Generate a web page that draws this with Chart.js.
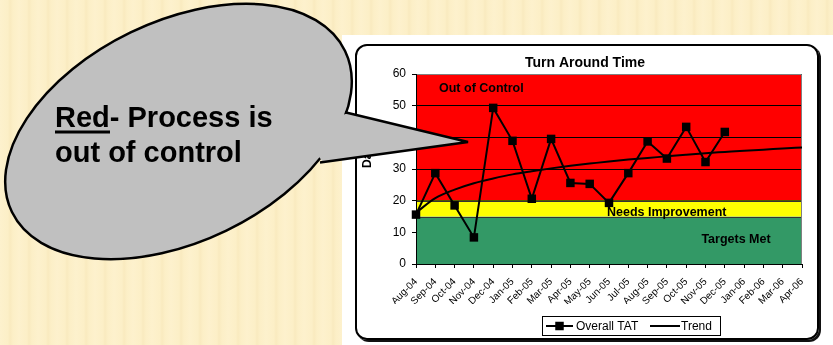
<!DOCTYPE html>
<html>
<head>
<meta charset="utf-8">
<script src="https://cdn.jsdelivr.net/npm/chart.js@4.4.1/dist/chart.umd.min.js"></script>
<style>
  html, body { margin: 0; padding: 0; }
  body {
    width: 833px; height: 345px; position: relative; overflow: hidden;
    background: repeating-linear-gradient(90deg, #fdf1cd 0px, #fcefc7 8px, #f9eabf 10px, #fcefc7 13px, #fdf1cd 19px);
  }
  #panel { position: absolute; left: 342px; top: 35px; width: 491px; height: 310px; background: #fff; }
  #frame {
    position: absolute; left: 355px; top: 44px; width: 460px; height: 292px;
    border: 2px solid #000; border-radius: 12px; box-shadow: 2px 2px 0 #111;
  }
  #chart, #bubble { position: absolute; left: 0; top: 0; }
</style>
</head>
<body>
<div id="panel"></div>
<div id="frame"></div>
<canvas id="chart" width="833" height="345"></canvas>
<svg id="bubble" width="833" height="345">
  <ellipse cx="178.5" cy="131.5" rx="185" ry="110" transform="rotate(-25.8 178.5 131.5)"
           fill="#c0c0c0" stroke="#000" stroke-width="2.5"/>
  <polygon points="348,113 468,142 323,162 300,132" fill="#c0c0c0"/>
  <polyline points="345,112.3 468,142 320,162.4" fill="none" stroke="#000" stroke-width="2.5"/>
  <text x="55" y="127" font-family="Liberation Sans, Arial, sans-serif" font-weight="bold" font-size="29">Red- Process is</text>
  <rect x="55" y="130.5" width="55" height="3" fill="#000"/>
  <text x="55" y="162" font-family="Liberation Sans, Arial, sans-serif" font-weight="bold" font-size="29">out of control</text>
</svg>

<script>
// months on the x axis
const months = ['Aug-04', 'Sep-04', 'Oct-04', 'Nov-04', 'Dec-04', 'Jan-05', 'Feb-05',
  'Mar-05', 'Apr-05', 'May-05', 'Jun-05', 'Jul-05', 'Aug-05', 'Sep-05', 'Oct-05',
  'Nov-05', 'Dec-05', 'Jan-06', 'Feb-06', 'Mar-06', 'Apr-06'];

// turn around time in days
const tatValues = [15.6, 28.7, 18.5, 8.4, 49.3, 38.9, 20.6, 39.5, 25.6, 25.3, 19.3,
  28.7, 38.7, 33.3, 43.3, 32.2, 41.7];

// trend curve, read at each month
const trendValues = [16.2, 20.8, 23.5, 25.5, 27.0, 28.3, 29.3, 30.2, 31.0, 31.7, 32.4,
  33.0, 33.5, 34.0, 34.5, 35.0, 35.4, 35.8, 36.1, 36.5, 36.8];

const seriesNames = ['Overall TAT', 'Trend'];

// zones: limits from bottom to top, with a name and colour for each zone
const zoneLimits = [0, 15, 20, 60];
const zoneNames = ['Targets Met', 'Needs Improvement', 'Out of Control'];
const zoneColors = ['#339966', '#ffff00', '#ff0000'];

const yTicks = { min: 0, max: 60, step: 10 };

const FONT = 'Liberation Sans, Arial, sans-serif';

const zonesPlugin = {
  id: 'zones',
  beforeDraw(chart) {
    const { ctx, chartArea: a, scales: { y } } = chart;
    const top = y.getPixelForValue(zoneLimits[3]);
    const bot = y.getPixelForValue(zoneLimits[2]);
    ctx.save();
    ctx.fillStyle = zoneColors[2];
    ctx.fillRect(a.left, top, a.width, bot - top);
    ctx.restore();
  },
  beforeDatasetsDraw(chart) {
    const { ctx, chartArea: a, scales: { y } } = chart;
    ctx.save();
    for (let i = 0; i < 2; i++) {
      const t = y.getPixelForValue(zoneLimits[i + 1]);
      const b = y.getPixelForValue(zoneLimits[i]);
      ctx.fillStyle = zoneColors[i];
      ctx.fillRect(a.left, t, a.width, b - t);
    }
    // zone edges
    ctx.lineWidth = 1;
    ctx.strokeStyle = '#333';
    [zoneLimits[1], zoneLimits[2]].forEach(v => {
      const p = Math.round(y.getPixelForValue(v)) + 0.5;
      ctx.beginPath(); ctx.moveTo(a.left, p); ctx.lineTo(a.right, p); ctx.stroke();
    });
    // plot border
    ctx.strokeStyle = '#808080';
    ctx.beginPath();
    ctx.moveTo(a.left, Math.round(a.top) + 0.5);
    ctx.lineTo(Math.round(a.right) - 0.5, Math.round(a.top) + 0.5);
    ctx.lineTo(Math.round(a.right) - 0.5, a.bottom);
    ctx.stroke();
    ctx.strokeStyle = '#000';
    ctx.beginPath();
    ctx.moveTo(Math.round(a.left) + 0.5, a.top);
    ctx.lineTo(Math.round(a.left) + 0.5, Math.round(a.bottom) + 0.5);
    ctx.lineTo(a.right, Math.round(a.bottom) + 0.5);
    ctx.stroke();

    // zone names
    ctx.fillStyle = '#000';
    ctx.font = 'bold 12.5px ' + FONT;
    ctx.textBaseline = 'middle';
    ctx.textAlign = 'left';
    ctx.fillText(zoneNames[2], a.left + 23, a.top + 15);
    ctx.fillText(zoneNames[1], a.left + 191, y.getPixelForValue(zoneLimits[1]) - 4);
    ctx.textAlign = 'center';
    ctx.fillText(zoneNames[0], a.left + 320, a.bottom - 24);
    ctx.restore();
  },
  afterDraw(chart) {
    const { ctx } = chart;
    ctx.save();
    ctx.fillStyle = '#000';
    // title
    ctx.font = 'bold 14px ' + FONT;
    ctx.textAlign = 'center';
    ctx.textBaseline = 'middle';
    ctx.fillText('Turn Around Time', 585, 63);
    // y axis title (mostly hidden by the callout)
    ctx.font = 'bold 12px ' + FONT;
    ctx.translate(368, 168);
    ctx.rotate(-Math.PI / 2);
    ctx.textAlign = 'left';
    ctx.fillText('Days', 0, 0);
    ctx.setTransform(1, 0, 0, 1, 0, 0);

    // legend
    const lx = 542.5, ly = 316.5, lw = 178, lh = 19, my = ly + lh / 2;
    ctx.fillStyle = '#fff';
    ctx.fillRect(lx, ly, lw, lh);
    ctx.strokeStyle = '#000';
    ctx.lineWidth = 1;
    ctx.strokeRect(lx, ly, lw, lh);
    ctx.lineWidth = 2;
    ctx.beginPath(); ctx.moveTo(546, my); ctx.lineTo(573, my); ctx.stroke();
    ctx.fillStyle = '#000';
    ctx.fillRect(559.5 - 4.25, my - 4.25, 8.5, 8.5);
    ctx.beginPath(); ctx.moveTo(650, my); ctx.lineTo(680, my); ctx.stroke();
    ctx.font = '12px ' + FONT;
    ctx.textAlign = 'left';
    ctx.textBaseline = 'middle';
    ctx.fillText(chart.data.datasets[0].label, 576, my + 0.5);
    ctx.fillText(chart.data.datasets[1].label, 681, my + 0.5);
    ctx.restore();
  }
};

new Chart(document.getElementById('chart').getContext('2d'), {
  type: 'line',
  data: {
    labels: months,
    datasets: [
      {
        label: seriesNames[0],
        data: tatValues,
        borderColor: '#000',
        borderWidth: 2,
        tension: 0,
        pointStyle: 'rect',
        pointRadius: 6,
        pointBackgroundColor: '#000',
        pointBorderColor: '#000',
        pointBorderWidth: 0
      },
      {
        label: seriesNames[1],
        data: trendValues,
        borderColor: '#000',
        borderWidth: 2,
        cubicInterpolationMode: 'monotone',
        pointRadius: 0
      }
    ]
  },
  options: {
    responsive: false,
    animation: false,
    layout: { padding: { left: 355, right: 31, top: 74, bottom: 41 } },
    plugins: {
      legend: { display: false },
      title: { display: false },
      tooltip: { enabled: false }
    },
    scales: {
      x: {
        offset: false,
        afterFit(scale) { scale.height = 40; },
        grid: { display: true, drawOnChartArea: false, drawTicks: true, tickLength: 4, color: '#000' },
        border: { display: true, color: '#000' },
        ticks: {
          autoSkip: false, minRotation: 45, maxRotation: 45, padding: 8,
          color: '#000', font: { family: FONT, size: 10 }
        }
      },
      y: {
        min: yTicks.min,
        max: yTicks.max,
        afterFit(scale) { scale.width = 61; },
        grid: { color: '#000', lineWidth: 1, tickLength: 4 },
        border: { display: true, color: '#000' },
        ticks: { stepSize: yTicks.step, padding: 6, color: '#000', font: { family: FONT, size: 12 } }
      }
    }
  },
  plugins: [zonesPlugin]
});
</script>
</body>
</html>
